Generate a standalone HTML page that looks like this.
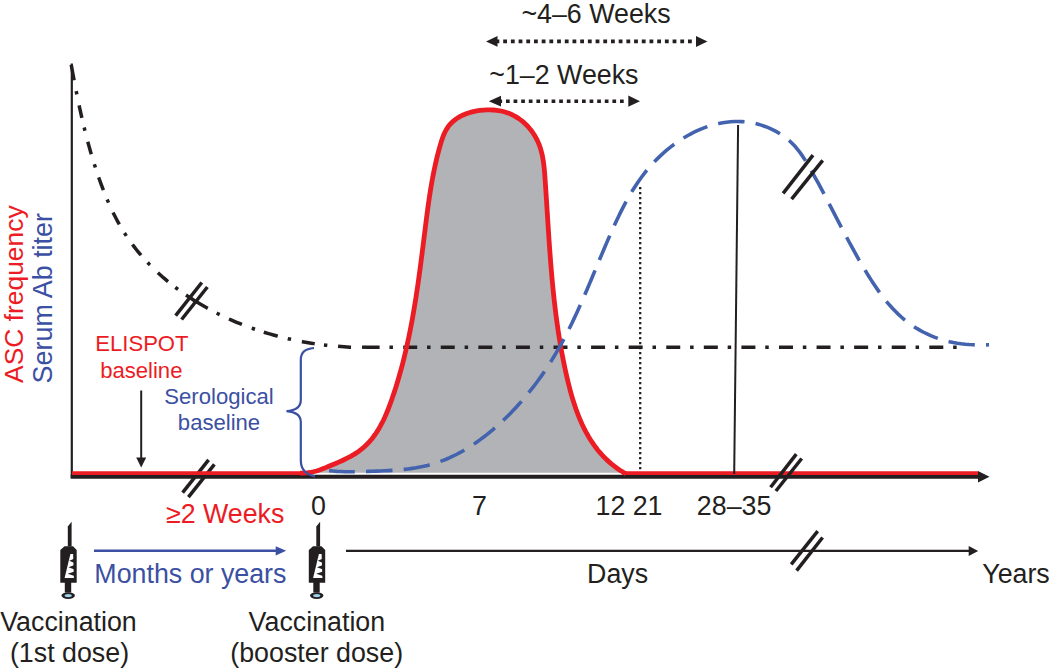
<!DOCTYPE html>
<html><head><meta charset="utf-8"><style>
html,body{margin:0;padding:0;background:#fff;overflow:hidden;}
svg{display:block;}
</style></head><body>
<svg width="1050" height="669" viewBox="0 0 1050 669" font-family="Liberation Sans, sans-serif">
<rect width="1050" height="669" fill="#fff"/>
<path d="M299.90,473.13 L303.45,473.18 L306.86,472.95 L310.16,472.49 L313.36,471.81 L316.50,470.95 L319.59,469.95 L322.65,468.82 L325.70,467.61 L328.78,466.34 L331.89,465.04 L335.04,463.72 L338.20,462.36 L341.36,460.95 L344.50,459.48 L347.60,457.95 L350.64,456.34 L353.60,454.64 L356.48,452.85 L359.24,450.94 L361.87,448.92 L364.37,446.78 L366.75,444.53 L369.00,442.17 L371.14,439.71 L373.17,437.16 L375.09,434.52 L376.92,431.80 L378.66,429.00 L380.30,426.14 L381.87,423.21 L383.37,420.23 L384.79,417.20 L386.15,414.12 L387.45,411.01 L388.70,407.86 L389.90,404.69 L391.06,401.50 L392.19,398.30 L393.28,395.09 L394.35,391.88 L395.39,388.66 L396.41,385.44 L397.40,382.22 L398.36,378.99 L399.30,375.76 L400.22,372.52 L401.11,369.28 L401.98,366.04 L402.83,362.80 L403.65,359.55 L404.46,356.29 L405.24,353.04 L406.01,349.78 L406.75,346.52 L407.48,343.25 L408.19,339.98 L408.88,336.71 L409.55,333.44 L410.21,330.16 L410.85,326.88 L411.47,323.60 L412.08,320.32 L412.68,317.03 L413.26,313.74 L413.83,310.45 L414.38,307.16 L414.93,303.86 L415.46,300.56 L415.98,297.26 L416.49,293.96 L416.99,290.66 L417.48,287.35 L417.96,284.04 L418.43,280.73 L418.90,277.42 L419.35,274.11 L419.80,270.80 L420.25,267.48 L420.69,264.16 L421.12,260.84 L421.55,257.53 L421.98,254.20 L422.40,250.88 L422.82,247.56 L423.24,244.24 L423.66,240.91 L424.07,237.59 L424.49,234.26 L424.90,230.93 L425.32,227.60 L425.74,224.28 L426.16,220.95 L426.58,217.62 L427.01,214.29 L427.45,210.97 L427.90,207.64 L428.36,204.32 L428.84,201.00 L429.32,197.68 L429.82,194.36 L430.34,191.04 L430.88,187.73 L431.44,184.42 L432.02,181.12 L432.62,177.82 L433.25,174.52 L433.91,171.23 L434.59,167.94 L435.30,164.66 L436.04,161.38 L436.82,158.11 L437.62,154.85 L438.47,151.59 L439.35,148.34 L440.27,145.09 L441.23,141.86 L442.28,138.66 L443.44,135.53 L444.76,132.50 L446.29,129.60 L448.05,126.86 L450.11,124.30 L452.43,121.96 L455.00,119.82 L457.76,117.90 L460.69,116.20 L463.73,114.72 L466.86,113.47 L470.07,112.42 L473.34,111.57 L476.66,110.91 L480.01,110.42 L483.37,110.10 L486.74,109.93 L490.10,109.90 L493.43,110.01 L496.74,110.29 L500.02,110.77 L503.27,111.49 L506.48,112.44 L509.62,113.61 L512.68,115.00 L515.65,116.59 L518.50,118.37 L521.21,120.34 L523.80,122.47 L526.24,124.76 L528.53,127.19 L530.68,129.76 L532.66,132.44 L534.49,135.24 L536.14,138.13 L537.63,141.10 L538.94,144.13 L540.07,147.23 L541.04,150.39 L541.87,153.59 L542.56,156.83 L543.15,160.11 L543.64,163.42 L544.04,166.75 L544.38,170.11 L544.67,173.48 L544.93,176.85 L545.16,180.23 L545.39,183.61 L545.62,186.98 L545.84,190.35 L546.06,193.72 L546.28,197.08 L546.50,200.45 L546.71,203.81 L546.92,207.17 L547.14,210.52 L547.35,213.88 L547.56,217.23 L547.77,220.58 L547.99,223.92 L548.20,227.27 L548.42,230.61 L548.64,233.95 L548.86,237.29 L549.09,240.63 L549.32,243.96 L549.55,247.30 L549.79,250.63 L550.04,253.96 L550.29,257.29 L550.54,260.62 L550.80,263.94 L551.07,267.27 L551.35,270.59 L551.63,273.91 L551.93,277.23 L552.23,280.55 L552.54,283.87 L552.86,287.19 L553.19,290.51 L553.53,293.82 L553.88,297.14 L554.24,300.45 L554.62,303.77 L555.01,307.08 L555.41,310.39 L555.82,313.70 L556.25,317.01 L556.69,320.32 L557.15,323.63 L557.62,326.94 L558.10,330.25 L558.61,333.56 L559.12,336.87 L559.66,340.18 L560.21,343.49 L560.78,346.80 L561.37,350.11 L561.98,353.42 L562.61,356.73 L563.25,360.04 L563.92,363.35 L564.61,366.66 L565.31,369.97 L566.04,373.28 L566.79,376.59 L567.57,379.90 L568.37,383.21 L569.20,386.51 L570.06,389.80 L570.95,393.08 L571.88,396.34 L572.85,399.59 L573.87,402.82 L574.92,406.03 L576.02,409.22 L577.17,412.38 L578.37,415.51 L579.63,418.61 L580.94,421.67 L582.31,424.70 L583.75,427.69 L585.24,430.64 L586.80,433.54 L588.44,436.40 L590.14,439.21 L591.92,441.97 L593.77,444.67 L595.70,447.32 L597.71,449.91 L599.81,452.44 L601.99,454.90 L604.27,457.30 L606.63,459.63 L609.09,461.89 L611.64,464.08 L614.30,466.18 L617.05,468.21 L619.91,470.16 L622.88,472.03 L625.95,473.80 L626,472.7 L300,472.7 Z" fill="#b2b3b6"/>
<line x1="71.8" y1="63.5" x2="71.8" y2="478" stroke="#231f20" stroke-width="2.2"/>
<line x1="70.7" y1="476.75" x2="979" y2="476.75" stroke="#231f20" stroke-width="3.9"/>
<path d="M978,470.9 L989.5,476.7 L978,482.5 Z" fill="#231f20"/>
<g stroke="#231f20" stroke-width="3.5">
<line x1="182.6" y1="492.6" x2="208.6" y2="459.8"/><line x1="188.4" y1="497.1" x2="214.4" y2="464.3"/>
</g>
<line x1="640.2" y1="187" x2="640.2" y2="472" stroke="#231f20" stroke-width="2.3" stroke-dasharray="2.3 2.7"/>
<path d="M71.24,64.74 L71.76,67.64 L72.29,70.55 L72.82,73.46 L73.36,76.37 L73.91,79.29 L74.46,82.20 L75.02,85.12 L75.59,88.04 L76.16,90.97 L76.75,93.89 L77.34,96.81 L77.94,99.74 L78.55,102.66 L79.17,105.59 L79.80,108.51 L80.44,111.44 L81.09,114.36 L81.75,117.28 L82.42,120.20 L83.11,123.12 L83.81,126.04 L84.52,128.96 L85.24,131.87 L85.98,134.78 L86.73,137.69 L87.49,140.60 L88.27,143.50 L89.06,146.40 L89.87,149.29 L90.70,152.18 L91.54,155.06 L92.39,157.95 L93.27,160.82 L94.16,163.69 L95.07,166.56 L95.99,169.42 L96.94,172.27 L97.90,175.11 L98.88,177.96 L99.88,180.79 L100.90,183.61 L101.94,186.43 L103.01,189.24 L104.10,192.03 L105.21,194.82 L106.35,197.59 L107.51,200.35 L108.70,203.09 L109.93,205.82 L111.17,208.53 L112.45,211.23 L113.77,213.91 L115.11,216.56 L116.49,219.20 L117.90,221.82 L119.34,224.42 L120.83,226.99 L122.35,229.54 L123.90,232.07 L125.50,234.57 L127.14,237.04 L128.82,239.49 L130.53,241.91 L132.28,244.30 L134.07,246.67 L135.90,249.01 L137.76,251.32 L139.66,253.61 L141.59,255.87 L143.56,258.10 L145.56,260.31 L147.58,262.48 L149.65,264.63 L151.74,266.75 L153.86,268.85 L156.01,270.91 L158.18,272.95 L160.39,274.96 L162.62,276.95 L164.88,278.90 L167.16,280.83 L169.47,282.72 L171.80,284.59 L174.16,286.44 L176.54,288.25 L178.95,290.04 L181.37,291.79 L183.82,293.52 L186.29,295.23 L188.78,296.90 L191.29,298.55 L193.82,300.16 L196.37,301.75 L198.94,303.32 L201.53,304.85 L204.13,306.36 L206.76,307.84 L209.40,309.29 L212.05,310.71 L214.72,312.11 L217.41,313.47 L220.10,314.81 L222.82,316.13 L225.54,317.41 L228.28,318.67 L231.04,319.89 L233.80,321.10 L236.57,322.27 L239.36,323.41 L242.15,324.53 L244.96,325.62 L247.77,326.69 L250.60,327.72 L253.43,328.73 L256.26,329.71 L259.11,330.66 L261.96,331.58 L264.82,332.48 L267.68,333.35 L270.55,334.19 L273.42,335.01 L276.30,335.79 L279.18,336.55 L282.07,337.29 L284.97,337.99 L287.87,338.68 L290.77,339.33 L293.68,339.96 L296.60,340.56 L299.52,341.14 L302.45,341.69 L305.38,342.21 L308.32,342.71 L311.26,343.19 L314.21,343.64 L317.16,344.06 L320.12,344.46 L323.08,344.84 L326.05,345.19 L329.02,345.52 L332.00,345.82 L334.99,346.10 L337.98,346.35 L340.97,346.58 L343.97,346.79 L346.97,346.97 L349.98,347.14 L353.00,347.27 L356.02,347.39" fill="none" stroke="#231f20" stroke-width="3.5" stroke-dasharray="15.75 11.05 3.4 11.3 12.75 9.8 3.4 11.3 13.0 10.55 3.4 10.3 13.75 10.05 3.4 10.8 13.5 10.05 3.4 10.55 13.75 9.8 3.4 11.05 13.5 9.3 3.4 9.8 25.5 10.05 3.4 10.3 14.0 10.55 3.4 9.3 14.5 10.3 3.4 11.05 13.0 9.3 3.4 10.8 13.0 55.0"/>
<line x1="362" y1="347.2" x2="366" y2="347.2" stroke="#231f20" stroke-width="3.4"/>
<line x1="365.6" y1="347.2" x2="957.5" y2="347.2" stroke="#231f20" stroke-width="3.4" stroke-dasharray="14 9.85 3.5 10.23"/>
<path d="M72,473.1 L305,473.1" stroke="#ec1c24" stroke-width="3.6" fill="none"/>
<path d="M622,473.1 L978,473.1" stroke="#ec1c24" stroke-width="3.6" fill="none"/>
<path d="M299.90,473.13 L303.45,473.18 L306.86,472.95 L310.16,472.49 L313.36,471.81 L316.50,470.95 L319.59,469.95 L322.65,468.82 L325.70,467.61 L328.78,466.34 L331.89,465.04 L335.04,463.72 L338.20,462.36 L341.36,460.95 L344.50,459.48 L347.60,457.95 L350.64,456.34 L353.60,454.64 L356.48,452.85 L359.24,450.94 L361.87,448.92 L364.37,446.78 L366.75,444.53 L369.00,442.17 L371.14,439.71 L373.17,437.16 L375.09,434.52 L376.92,431.80 L378.66,429.00 L380.30,426.14 L381.87,423.21 L383.37,420.23 L384.79,417.20 L386.15,414.12 L387.45,411.01 L388.70,407.86 L389.90,404.69 L391.06,401.50 L392.19,398.30 L393.28,395.09 L394.35,391.88 L395.39,388.66 L396.41,385.44 L397.40,382.22 L398.36,378.99 L399.30,375.76 L400.22,372.52 L401.11,369.28 L401.98,366.04 L402.83,362.80 L403.65,359.55 L404.46,356.29 L405.24,353.04 L406.01,349.78 L406.75,346.52 L407.48,343.25 L408.19,339.98 L408.88,336.71 L409.55,333.44 L410.21,330.16 L410.85,326.88 L411.47,323.60 L412.08,320.32 L412.68,317.03 L413.26,313.74 L413.83,310.45 L414.38,307.16 L414.93,303.86 L415.46,300.56 L415.98,297.26 L416.49,293.96 L416.99,290.66 L417.48,287.35 L417.96,284.04 L418.43,280.73 L418.90,277.42 L419.35,274.11 L419.80,270.80 L420.25,267.48 L420.69,264.16 L421.12,260.84 L421.55,257.53 L421.98,254.20 L422.40,250.88 L422.82,247.56 L423.24,244.24 L423.66,240.91 L424.07,237.59 L424.49,234.26 L424.90,230.93 L425.32,227.60 L425.74,224.28 L426.16,220.95 L426.58,217.62 L427.01,214.29 L427.45,210.97 L427.90,207.64 L428.36,204.32 L428.84,201.00 L429.32,197.68 L429.82,194.36 L430.34,191.04 L430.88,187.73 L431.44,184.42 L432.02,181.12 L432.62,177.82 L433.25,174.52 L433.91,171.23 L434.59,167.94 L435.30,164.66 L436.04,161.38 L436.82,158.11 L437.62,154.85 L438.47,151.59 L439.35,148.34 L440.27,145.09 L441.23,141.86 L442.28,138.66 L443.44,135.53 L444.76,132.50 L446.29,129.60 L448.05,126.86 L450.11,124.30 L452.43,121.96 L455.00,119.82 L457.76,117.90 L460.69,116.20 L463.73,114.72 L466.86,113.47 L470.07,112.42 L473.34,111.57 L476.66,110.91 L480.01,110.42 L483.37,110.10 L486.74,109.93 L490.10,109.90 L493.43,110.01 L496.74,110.29 L500.02,110.77 L503.27,111.49 L506.48,112.44 L509.62,113.61 L512.68,115.00 L515.65,116.59 L518.50,118.37 L521.21,120.34 L523.80,122.47 L526.24,124.76 L528.53,127.19 L530.68,129.76 L532.66,132.44 L534.49,135.24 L536.14,138.13 L537.63,141.10 L538.94,144.13 L540.07,147.23 L541.04,150.39 L541.87,153.59 L542.56,156.83 L543.15,160.11 L543.64,163.42 L544.04,166.75 L544.38,170.11 L544.67,173.48 L544.93,176.85 L545.16,180.23 L545.39,183.61 L545.62,186.98 L545.84,190.35 L546.06,193.72 L546.28,197.08 L546.50,200.45 L546.71,203.81 L546.92,207.17 L547.14,210.52 L547.35,213.88 L547.56,217.23 L547.77,220.58 L547.99,223.92 L548.20,227.27 L548.42,230.61 L548.64,233.95 L548.86,237.29 L549.09,240.63 L549.32,243.96 L549.55,247.30 L549.79,250.63 L550.04,253.96 L550.29,257.29 L550.54,260.62 L550.80,263.94 L551.07,267.27 L551.35,270.59 L551.63,273.91 L551.93,277.23 L552.23,280.55 L552.54,283.87 L552.86,287.19 L553.19,290.51 L553.53,293.82 L553.88,297.14 L554.24,300.45 L554.62,303.77 L555.01,307.08 L555.41,310.39 L555.82,313.70 L556.25,317.01 L556.69,320.32 L557.15,323.63 L557.62,326.94 L558.10,330.25 L558.61,333.56 L559.12,336.87 L559.66,340.18 L560.21,343.49 L560.78,346.80 L561.37,350.11 L561.98,353.42 L562.61,356.73 L563.25,360.04 L563.92,363.35 L564.61,366.66 L565.31,369.97 L566.04,373.28 L566.79,376.59 L567.57,379.90 L568.37,383.21 L569.20,386.51 L570.06,389.80 L570.95,393.08 L571.88,396.34 L572.85,399.59 L573.87,402.82 L574.92,406.03 L576.02,409.22 L577.17,412.38 L578.37,415.51 L579.63,418.61 L580.94,421.67 L582.31,424.70 L583.75,427.69 L585.24,430.64 L586.80,433.54 L588.44,436.40 L590.14,439.21 L591.92,441.97 L593.77,444.67 L595.70,447.32 L597.71,449.91 L599.81,452.44 L601.99,454.90 L604.27,457.30 L606.63,459.63 L609.09,461.89 L611.64,464.08 L614.30,466.18 L617.05,468.21 L619.91,470.16 L622.88,472.03 L625.95,473.80" fill="none" stroke="#ec1c24" stroke-width="4.8" stroke-linejoin="round"/>
<line x1="738.1" y1="125" x2="734.2" y2="474" stroke="#231f20" stroke-width="2"/>
<path d="M329.08,470.64 L332.98,471.04 L336.89,471.34 L340.80,471.55 L344.70,471.68 L348.62,471.74 L352.54,471.74 L356.46,471.70 L360.40,471.62 L364.34,471.51 L368.30,471.38 L372.27,471.25 L376.26,471.12 L380.25,470.97 L384.25,470.80 L388.26,470.60 L392.26,470.37 L396.25,470.09 L400.24,469.77 L404.21,469.38 L408.17,468.93 L412.11,468.40 L416.03,467.79 L419.92,467.09 L423.78,466.30 L427.61,465.40 L431.40,464.39 L435.15,463.27 L438.86,462.02 L442.53,460.67 L446.17,459.22 L449.76,457.66 L453.30,456.00 L456.81,454.24 L460.28,452.40 L463.71,450.47 L467.09,448.46 L470.44,446.36 L473.74,444.20 L477.00,441.96 L480.21,439.65 L483.39,437.28 L486.52,434.86 L489.61,432.37 L492.66,429.84 L495.67,427.26 L498.63,424.63 L501.55,421.96 L504.43,419.25 L507.26,416.49 L510.06,413.70 L512.81,410.87 L515.52,407.99 L518.19,405.08 L520.81,402.14 L523.40,399.15 L525.94,396.13 L528.45,393.08 L530.91,389.99 L533.34,386.88 L535.72,383.73 L538.07,380.55 L540.37,377.34 L542.64,374.10 L544.86,370.83 L547.05,367.54 L549.20,364.22 L551.31,360.88 L553.38,357.51 L555.42,354.12 L557.41,350.70 L559.37,347.27 L561.30,343.81 L563.18,340.34 L565.03,336.85 L566.85,333.33 L568.64,329.81 L570.40,326.26 L572.13,322.71 L573.84,319.14 L575.52,315.55 L577.18,311.96 L578.82,308.35 L580.44,304.73 L582.04,301.11 L583.63,297.47 L585.20,293.83 L586.76,290.18 L588.31,286.53 L589.86,282.88 L591.39,279.22 L592.92,275.55 L594.45,271.89 L595.97,268.23 L597.50,264.56 L599.02,260.90 L600.55,257.24 L602.09,253.59 L603.63,249.93 L605.18,246.29 L606.74,242.65 L608.31,239.02 L609.89,235.39 L611.49,231.77 L613.11,228.17 L614.74,224.57 L616.40,220.99 L618.09,217.43 L619.80,213.88 L621.55,210.35 L623.34,206.85 L625.17,203.37 L627.04,199.92 L628.97,196.50 L630.95,193.11 L632.99,189.75 L635.09,186.44 L637.26,183.16 L639.50,179.92 L641.81,176.73 L644.20,173.58 L646.68,170.49 L649.24,167.44 L651.89,164.45 L654.63,161.52 L657.45,158.65 L660.35,155.85 L663.33,153.12 L666.38,150.47 L669.51,147.91 L672.70,145.43 L675.96,143.04 L679.28,140.76 L682.65,138.57 L686.09,136.50 L689.57,134.53 L693.10,132.69 L696.68,130.96 L700.30,129.36 L703.95,127.90 L707.65,126.57 L711.37,125.39 L715.13,124.35 L718.91,123.47 L722.71,122.74 L726.53,122.17 L730.37,121.77 L734.22,121.54 L738.08,121.49 L741.95,121.62 L745.82,121.93 L749.69,122.44 L753.55,123.14 L757.41,124.04 L761.24,125.14 L765.04,126.43 L768.77,127.91 L772.44,129.57 L776.02,131.42 L779.49,133.44 L782.84,135.64 L786.06,138.00 L789.13,140.54 L792.02,143.23 L794.75,146.08 L797.31,149.06 L799.73,152.17 L802.02,155.38 L804.21,158.67 L806.31,162.03 L808.35,165.44 L810.34,168.88 L812.29,172.33 L814.22,175.79 L816.14,179.26 L818.03,182.73 L819.90,186.20 L821.76,189.68 L823.61,193.16 L825.44,196.64 L827.27,200.13 L829.09,203.62 L830.90,207.11 L832.71,210.60 L834.52,214.10 L836.32,217.59 L838.13,221.08 L839.95,224.57 L841.77,228.06 L843.59,231.55 L845.43,235.04 L847.28,238.52 L849.14,242.00 L851.02,245.47 L852.91,248.94 L854.83,252.41 L856.76,255.87 L858.72,259.32 L860.70,262.77 L862.71,266.21 L864.75,269.64 L866.83,273.07 L868.93,276.48 L871.07,279.87 L873.26,283.24 L875.48,286.58 L877.76,289.87 L880.09,293.13 L882.47,296.33 L884.92,299.47 L887.43,302.55 L890.00,305.56 L892.65,308.49 L895.37,311.34 L898.17,314.10 L901.05,316.75 L904.01,319.31 L907.07,321.76 L910.21,324.09 L913.43,326.30 L916.74,328.40 L920.12,330.38 L923.58,332.24 L927.10,333.98 L930.69,335.59 L934.34,337.07 L938.05,338.43 L941.80,339.65 L945.61,340.74 L949.46,341.70 L953.35,342.53 L957.27,343.22 L961.22,343.79 L965.19,344.23 L969.18,344.57 L973.17,344.80 L977.16,344.93 L981.14,344.97 L985.10,344.92 L989.05,344.79" fill="none" stroke="#4463ae" stroke-width="3.6" stroke-dasharray="26.5 11.23" stroke-dashoffset="0.75"/>
<path d="M314,348 C305,349 300.8,352 300.8,360 L300.8,400 C300.8,407 296,410.5 286.5,411.2 C296,412 300.8,415 300.8,422 L300.8,460 C300.8,469 304.5,474.5 315,476.3" fill="none" stroke="#3b50a2" stroke-width="2.2"/>
<g stroke="#231f20" stroke-width="3.5">
<line x1="175.6" y1="315.7" x2="201.8" y2="282.5"/><line x1="181.6" y1="319.5" x2="207.4" y2="287"/>
<line x1="783.1" y1="193.3" x2="813" y2="155.2"/><line x1="791.6" y1="199.1" x2="822.7" y2="160.3"/>
<line x1="791.2" y1="564.4" x2="817.7" y2="531.2"/><line x1="796.6" y1="570.7" x2="822.6" y2="537.5"/>
<line x1="770.6" y1="487.2" x2="796.3" y2="454.1"/><line x1="775.9" y1="491" x2="801.7" y2="458.5"/>
</g>
<line x1="141.2" y1="390.5" x2="141.2" y2="460" stroke="#231f20" stroke-width="2"/>
<path d="M136.2,457.6 L146.2,457.6 L141.2,467.6 Z" fill="#231f20"/>
<line x1="497" y1="41.4" x2="694" y2="41.4" stroke="#231f20" stroke-width="3.6" stroke-dasharray="3.8 3.9" stroke-dashoffset="-6.2"/>
<path d="M486,41.4 L497.5,36 L497.5,46.8 Z" fill="#231f20"/>
<path d="M707.4,41.4 L696,36 L696,47 Z" fill="#231f20"/>
<line x1="500" y1="101.3" x2="626" y2="101.3" stroke="#231f20" stroke-width="3.5" stroke-dasharray="3.7 3.9" stroke-dashoffset="-6"/>
<path d="M488.8,101.2 L501,95.8 L501,106.6 Z" fill="#231f20"/>
<path d="M640,101.3 L628.3,95.6 L628.3,106.7 Z" fill="#231f20"/>
<line x1="94" y1="550.8" x2="277" y2="550.8" stroke="#3b50a2" stroke-width="2.6"/>
<path d="M286.2,550.8 L275.7,546.2 L275.7,555.5 Z" fill="#3b50a2"/>
<line x1="346" y1="550.8" x2="970" y2="550.8" stroke="#231f20" stroke-width="2.2"/>
<path d="M978.2,550.9 L968.7,546 L968.7,555.9 Z" fill="#231f20"/>
<g transform="translate(-248.5,0)">
<path d="M316.3,546.5 L316.3,526.5 L320.1,521.8 L320.1,546.5 Z" fill="#231f20"/>
<path d="M313,546.3 L321.5,546.3 L325.2,550 L325.2,582.8 L308.8,582.8 L308.8,550 Z" fill="#231f20"/>
<path d="M318.9,553.9 L321.6,553.9 L322.4,578 L313.1,578 Z" fill="#fff"/>
<path d="M323,558.6 L317.8,560.8 L323,563.0 Z" fill="#231f20"/>
<path d="M323,565.0 L317.0,567.2 L323,569.4 Z" fill="#231f20"/>
<path d="M323,571.6 L316.2,573.8 L323,576.0 Z" fill="#231f20"/>
<rect x="313.3" y="582" width="6.4" height="10.5" fill="#231f20"/>
<ellipse cx="316.7" cy="595.6" rx="6.7" ry="3.4" fill="#231f20"/>
<ellipse cx="316.7" cy="595.6" rx="3.6" ry="1.6" fill="#9fd3ea"/>
</g>
<g transform="translate(0.0,0)">
<path d="M316.3,546.5 L316.3,526.5 L320.1,521.8 L320.1,546.5 Z" fill="#231f20"/>
<path d="M313,546.3 L321.5,546.3 L325.2,550 L325.2,582.8 L308.8,582.8 L308.8,550 Z" fill="#231f20"/>
<path d="M318.9,553.9 L321.6,553.9 L322.4,578 L313.1,578 Z" fill="#fff"/>
<path d="M323,558.6 L317.8,560.8 L323,563.0 Z" fill="#231f20"/>
<path d="M323,565.0 L317.0,567.2 L323,569.4 Z" fill="#231f20"/>
<path d="M323,571.6 L316.2,573.8 L323,576.0 Z" fill="#231f20"/>
<rect x="313.3" y="582" width="6.4" height="10.5" fill="#231f20"/>
<ellipse cx="316.7" cy="595.6" rx="6.7" ry="3.4" fill="#231f20"/>
<ellipse cx="316.7" cy="595.6" rx="3.6" ry="1.6" fill="#9fd3ea"/>
</g>
<g font-size="26.8" fill="#231f20" text-anchor="middle">
<text x="596" y="22.9">~4–6 Weeks</text>
<text x="563.9" y="83.5">~1–2 Weeks</text>
<text x="318.5" y="514.5">0</text>
<text x="479.4" y="514.5">7</text>
<text x="610.5" y="514.5">12</text>
<text x="647.6" y="514.5">21</text>
<text x="734.1" y="514.5">28–35</text>
<text x="617.6" y="582.9">Days</text>
<text x="1016" y="582.5">Years</text>
<text x="68.5" y="630.8">Vaccination</text>
<text x="69.5" y="662.3">(1st dose)</text>
<text x="316.9" y="630.8">Vaccination</text>
<text x="316.7" y="662.3">(booster dose)</text>
</g>
<text x="225.2" y="522.8" font-size="26.8" fill="#ec1c24" text-anchor="middle">≥2 Weeks</text>
<text x="190.4" y="582.5" font-size="26.8" fill="#3b50a2" text-anchor="middle">Months or years</text>
<g font-size="22.1" text-anchor="middle">
<text x="141.9" y="351.4" fill="#ec1c24">ELISPOT</text>
<text x="141.3" y="377.5" fill="#ec1c24">baseline</text>
<text x="219" y="403.8" fill="#3b50a2">Serological</text>
<text x="219" y="430.1" fill="#3b50a2">baseline</text>
</g>
<text transform="translate(23.1,382.9) rotate(-90)" font-size="26.4" fill="#ec1c24">ASC frequency</text>
<text transform="translate(52,383.4) rotate(-90)" font-size="26.9" fill="#3b50a2">Serum Ab titer</text>
</svg>
</body></html>
